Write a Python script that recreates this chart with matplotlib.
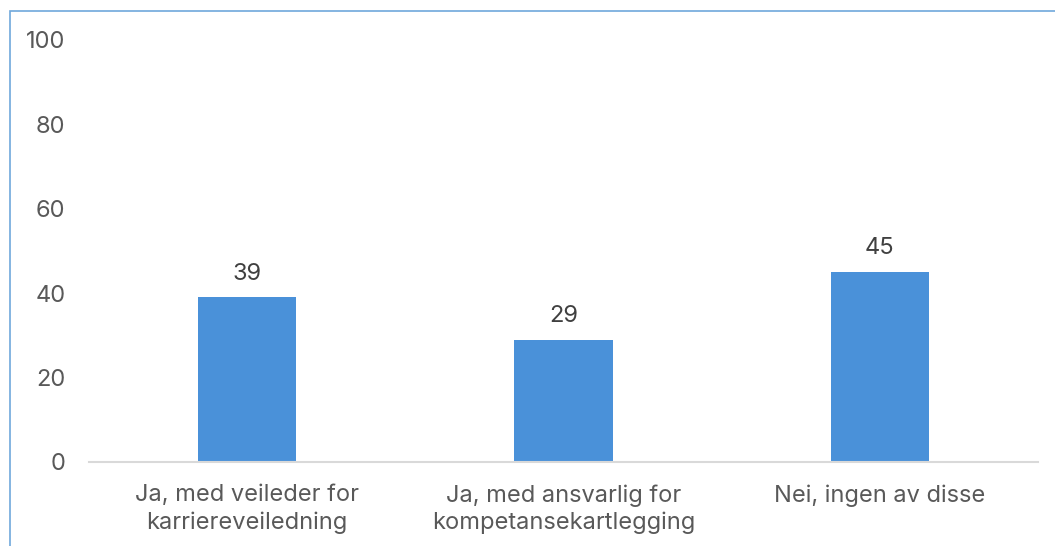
import matplotlib.pyplot as plt
from matplotlib.patches import Rectangle

categories = ["Ja, med veileder for\nkarriereveiledning",
              "Ja, med ansvarlig for\nkompetansekartlegging",
              "Nei, ingen av disse"]
values = [39, 29, 45]
yticks = [0, 20, 40, 60, 80, 100]

plt.rcParams['font.family'] = ['Inter', 'DejaVu Sans']
axis_color = '#595959'
label_color = '#404040'

fig = plt.figure(figsize=(10.55, 5.46), dpi=100)
ax = fig.add_axes([89 / 1055, 1 - 462 / 546, 949 / 1055, 422 / 546])

x = range(len(categories))
bars = ax.bar(x, values, width=0.31, color='#4a91d9', zorder=2)
for b, v in zip(bars, values):
    ax.text(b.get_x() + b.get_width() / 2, v + 3, f"{v}", ha='center', va='bottom',
            fontsize=17, color=label_color)

ax.set_xlim(-0.5, len(categories) - 0.5)
ax.set_ylim(0, 100)
ax.set_yticks(yticks)
ax.set_xticks(list(x))
ax.set_xticklabels(categories, fontsize=17, color=axis_color, linespacing=1.3)
ax.tick_params(axis='y', labelsize=17, labelcolor=axis_color, length=0, pad=17)
ax.tick_params(axis='x', length=0, pad=16)
for s in ['top', 'right', 'left']:
    ax.spines[s].set_visible(False)
ax.spines['bottom'].set_color('#d9d9d9')
ax.spines['bottom'].set_linewidth(1.5)

# outer chart border (cropped at right and bottom)
fig.patches.append(Rectangle((10 / 1055, -0.1), 1.2, 1 - 11 / 546 + 0.1,
                             transform=fig.transFigure, fill=False,
                             edgecolor='#6fa8dc', linewidth=1.2))

fig.savefig('out.png', dpi=100)
